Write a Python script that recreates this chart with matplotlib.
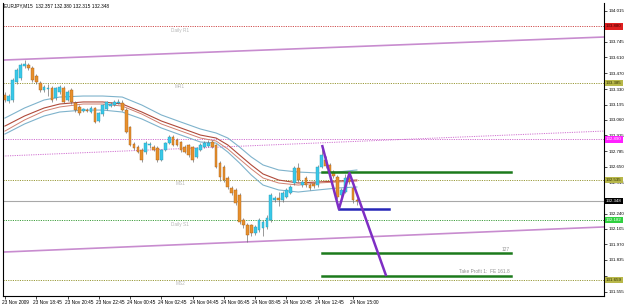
import numpy as np
import matplotlib
matplotlib.use("Agg")
import matplotlib.pyplot as plt
import matplotlib.transforms as mtransforms

plt.rcParams["font.family"] = ["Liberation Sans", "DejaVu Sans"]

# ── EURJPY M15 candles (bar index 0 = 23 Nov 2009 16:45) ──
opens = [133.279, 133.226, 133.235, 133.393, 133.428, 133.533, 133.542, 133.515, 133.445, 133.384,
         133.323, 133.331, 133.340, 133.253, 133.305, 133.340, 133.235, 133.323, 133.209, 133.174,
         133.139, 133.147, 133.130, 133.165, 133.051, 133.112, 133.156, 133.182, 133.191, 133.209,
         133.209, 133.147, 132.999, 132.850, 132.823, 132.797, 132.779, 132.841, 132.823, 132.815,
         132.709, 132.797, 132.858, 132.911, 132.885, 132.867, 132.823, 132.841, 132.823, 132.736,
         132.797, 132.823, 132.832, 132.867, 132.841, 132.683, 132.648, 132.552, 132.464, 132.447,
         132.403, 132.184, 132.140, 132.140, 132.070, 132.096, 132.114, 132.123, 132.184, 132.359,
         132.377, 132.359, 132.385, 132.420, 132.508, 132.639, 132.490, 132.552, 132.490, 132.499,
         132.490, 132.648, 132.709, 132.666, 132.604, 132.561, 132.403, 132.429, 132.552, 132.464,
         132.357]
highs = [133.305, 133.288, 133.428, 133.515, 133.559, 133.585, 133.559, 133.533, 133.463, 133.401,
         133.366, 133.375, 133.358, 133.349, 133.366, 133.358, 133.323, 133.340, 133.226, 133.191,
         133.165, 133.165, 133.182, 133.174, 133.130, 133.200, 133.226, 133.218, 133.235, 133.244,
         133.235, 133.165, 133.007, 132.867, 132.841, 132.815, 132.876, 132.867, 132.841, 132.832,
         132.806, 132.867, 132.928, 132.928, 132.902, 132.876, 132.841, 132.850, 132.832, 132.823,
         132.858, 132.876, 132.885, 132.885, 132.850, 132.701, 132.666, 132.569, 132.482, 132.464,
         132.420, 132.201, 132.158, 132.149, 132.140, 132.201, 132.184, 132.228, 132.420, 132.394,
         132.429, 132.438, 132.464, 132.490, 132.657, 132.683, 132.534, 132.569, 132.508, 132.517,
         132.666, 132.832, 132.744, 132.683, 132.622, 132.578, 132.464, 132.587, 132.596, 132.482,
         132.380]
lows = [133.218, 133.209, 133.218, 133.375, 133.410, 133.515, 133.498, 133.393, 133.375, 133.305,
        133.305, 133.270, 133.218, 133.235, 133.288, 133.209, 133.226, 133.200, 133.130, 133.104,
        133.130, 133.130, 133.121, 133.034, 133.042, 133.095, 133.147, 133.174, 133.182, 133.200,
        133.139, 132.946, 132.832, 132.797, 132.771, 132.692, 132.762, 132.815, 132.788, 132.692,
        132.701, 132.788, 132.850, 132.832, 132.832, 132.779, 132.771, 132.736, 132.692, 132.727,
        132.788, 132.815, 132.823, 132.815, 132.639, 132.525, 132.517, 132.455, 132.403, 132.315,
        132.149, 132.114, 131.991, 132.044, 132.052, 132.079, 132.044, 132.105, 132.166, 132.341,
        132.307, 132.341, 132.377, 132.412, 132.490, 132.517, 132.473, 132.473, 132.447, 132.464,
        132.473, 132.639, 132.639, 132.578, 132.552, 132.368, 132.385, 132.420, 132.499, 132.333,
        132.315]
closes = [133.235, 133.270, 133.410, 133.498, 133.542, 133.550, 133.515, 133.410, 133.393, 133.323,
          133.349, 133.340, 133.235, 133.340, 133.349, 133.218, 133.305, 133.218, 133.147, 133.121,
          133.156, 133.139, 133.165, 133.042, 133.121, 133.191, 133.218, 133.200, 133.218, 133.218,
          133.147, 132.955, 132.841, 132.815, 132.779, 132.709, 132.858, 132.850, 132.797, 132.709,
          132.797, 132.858, 132.911, 132.841, 132.841, 132.797, 132.779, 132.753, 132.709, 132.815,
          132.841, 132.858, 132.858, 132.823, 132.648, 132.561, 132.534, 132.473, 132.420, 132.333,
          132.166, 132.140, 132.052, 132.070, 132.123, 132.184, 132.166, 132.201, 132.403, 132.377,
          132.359, 132.420, 132.447, 132.473, 132.639, 132.534, 132.517, 132.490, 132.464, 132.482,
          132.648, 132.753, 132.657, 132.604, 132.569, 132.385, 132.447, 132.552, 132.517, 132.359,
          132.348]

# ── moving-average envelope (sampled at bar indices) ──
ma_idx = [0, 5, 10, 14, 20, 25, 30, 35, 40, 45, 50, 54, 57, 60, 63, 66, 70, 75, 80, 85, 90]
ma_upper = [133.077, 133.165, 133.235, 133.261, 133.270, 133.270, 133.261, 133.191, 133.104, 133.042,
            132.981, 132.946, 132.902, 132.823, 132.736, 132.666, 132.622, 132.604, 132.596, 132.604, 132.622]
ma_mid1 = [133.007, 133.095, 133.165, 133.200, 133.218, 133.218, 133.200, 133.130, 133.051, 132.990,
           132.928, 132.902, 132.841, 132.753, 132.666, 132.587, 132.534, 132.508, 132.517, 132.525, 132.534]
ma_mid2 = [132.963, 133.060, 133.139, 133.174, 133.200, 133.200, 133.182, 133.112, 133.025, 132.963,
           132.902, 132.876, 132.806, 132.718, 132.631, 132.552, 132.508, 132.490, 132.508, 132.517, 132.525]
ma_lower = [132.937, 133.025, 133.095, 133.130, 133.147, 133.147, 133.130, 133.069, 132.990, 132.928,
            132.867, 132.858, 132.779, 132.683, 132.578, 132.490, 132.447, 132.429, 132.447, 132.464, 132.473]

# ── levels ──
level_prices = [133.880, 133.385, 132.890, 132.535, 132.182, 131.659]
level_names = ["Daily R1", "MR1", "", "MS1", "Daily S1", "MS2"]
level_colors = ["#d05050", "#9a9a3a", "#d070d0", "#9a9a3a", "#40a040", "#9a9a3a"]
bid = 132.348

# channel (trend lines) end points, x in bar index
chan_x = [-0.5, 153.2]
chan_upper = [133.585, 133.787]
chan_lower = [131.903, 132.123]
chan_dotted = [132.744, 132.963]

# pattern drawing
zig_x = [81.1, 85.4, 88.1, 97.5]
zig_y = [132.841, 132.280, 132.596, 131.693]
green_x = [81.1, 129.4]
green_levels = [132.604, 131.895, 131.696]
green_labels = ["", "127", "Take Profit 1:  FE 161.8"]
blue_x = [85.4, 98.2]
blue_level = 132.280

yticks = [134.015, 133.880, 133.745, 133.610, 133.470, 133.330, 133.195, 133.060, 132.925, 132.785,
          132.650, 132.515, 132.380, 132.240, 132.105, 131.970, 131.835, 131.695, 131.555]
hidden_ticks = [133.880, 132.380, 131.695]   # covered by the price boxes
xtick_idx = [0, 8, 16, 24, 32, 40, 48, 56, 64, 72, 80, 89]
xtick_labels = ["23 Nov 2009", "23 Nov 18:45", "23 Nov 20:45", "23 Nov 22:45", "24 Nov 00:45",
                "24 Nov 02:45", "24 Nov 04:45", "24 Nov 06:45", "24 Nov 08:45", "24 Nov 10:45",
                "24 Nov 12:45", "24 Nov 15:00"]

box_prices = [133.880, 133.385, 132.890, 132.535, 132.348, 132.182, 131.659]
box_colors = ["#e02020", "#b8b84a", "#ff20ff", "#b8b84a", "#000000", "#30d040", "#b8b84a"]
box_text = ["#400000", "#303000", "#ffffff", "#303000", "#ffffff", "#ffffff", "#303000"]

FS = 3.4
FSY = 3.2

fig = plt.figure(figsize=(6.25, 3.05), dpi=100)
ax = fig.add_axes([3 / 625, 9 / 305, 601 / 625, 293 / 305])
ax.set_xlim(-0.5, 153.2)
ax.set_ylim(131.518, 134.085)

# levels
for p, name, c in zip(level_prices, level_names, level_colors):
    ax.axhline(p, color=c, lw=0.7, ls=(0, (1.2, 1.2)), zorder=1)
    if name:
        ax.text(44.8, p - 0.012, name, fontsize=FS, color="#b8b8b8", ha="center", va="top")

ax.axhline(bid, color="#a8a8a8", lw=0.8, zorder=1)

ax.plot(chan_x, chan_upper, color="#c88ccf", lw=1.2, zorder=2)
ax.plot(chan_x, chan_lower, color="#c88ccf", lw=1.2, zorder=2)
ax.plot(chan_x, chan_dotted, color="#d070d0", lw=0.7, ls=(0, (1.2, 1.2)), zorder=1)

# envelope
ax.plot(ma_idx, ma_upper, color="#7fb3cc", lw=0.8, zorder=2)
ax.plot(ma_idx, ma_mid1, color="#b04a3a", lw=0.8, zorder=2)
ax.plot(ma_idx, ma_mid2, color="#d08070", lw=0.7, zorder=2)
ax.plot(ma_idx, ma_lower, color="#7fb3cc", lw=0.8, zorder=2)

# candles
idx = np.arange(len(closes))
o = np.array(opens); c = np.array(closes)
bull = c >= o
ax.vlines(idx, lows, highs, color="#707070", lw=0.5, zorder=3)
ax.bar(idx[bull], (c - o)[bull], bottom=o[bull], width=0.7, color="#38c8e8",
       edgecolor="#2a9ab5", linewidth=0.3, zorder=4)
ax.bar(idx[~bull], (c - o)[~bull], bottom=o[~bull], width=0.7, color="#e8902c",
       edgecolor="#a8601a", linewidth=0.3, zorder=4)

# pattern
for lvl, lab in zip(green_levels, green_labels):
    ax.plot(green_x, [lvl, lvl], color="#1c7a1c", lw=1.8, zorder=5)
    if lab:
        ax.text(green_x[1] - 0.3, lvl + 0.012, lab, fontsize=FS, color="#909090",
                ha="right", va="bottom")
ax.plot(blue_x, [blue_level, blue_level], color="#2626b8", lw=1.8, zorder=5)
ax.plot(zig_x, zig_y, color="#7e2ec4", lw=1.8, zorder=6, solid_capstyle="butt")

# axes styling
ax.spines["top"].set_visible(False)
for s in ["left", "right", "bottom"]:
    ax.spines[s].set_linewidth(0.8)
ax.yaxis.tick_right()
ax.set_yticks(yticks)
ax.set_yticklabels(["" if v in hidden_ticks else f"{v:.3f}" for v in yticks], fontsize=FSY)
ax.tick_params(axis="y", length=2, width=0.5, pad=1.5)
ax.set_xticks(xtick_idx)
ax.set_xticklabels(xtick_labels, fontsize=FS, ha="left")
ax.tick_params(axis="x", length=2, width=0.5, pad=1)
for lbl in ax.get_xticklabels():
    lbl.set_transform(lbl.get_transform() + mtransforms.ScaledTranslation(-3 / 100, 0, fig.dpi_scale_trans))

trans = mtransforms.blended_transform_factory(ax.transAxes, ax.transData)
for p, fc, tc in zip(box_prices, box_colors, box_text):
    ax.text(1.003, p, f"{p:.3f}", transform=trans, fontsize=FSY, color=tc, ha="left", va="center",
            bbox=dict(boxstyle="square,pad=0.25", fc=fc, ec="none"), zorder=10, clip_on=False)

fig.text(4 / 625, 1 - 3 / 305, "EURJPY,M15  132.357 132.380 132.315 132.348", fontsize=FS,
         ha="left", va="top", color="black")

fig.savefig("out.png", dpi=100, facecolor="white")
